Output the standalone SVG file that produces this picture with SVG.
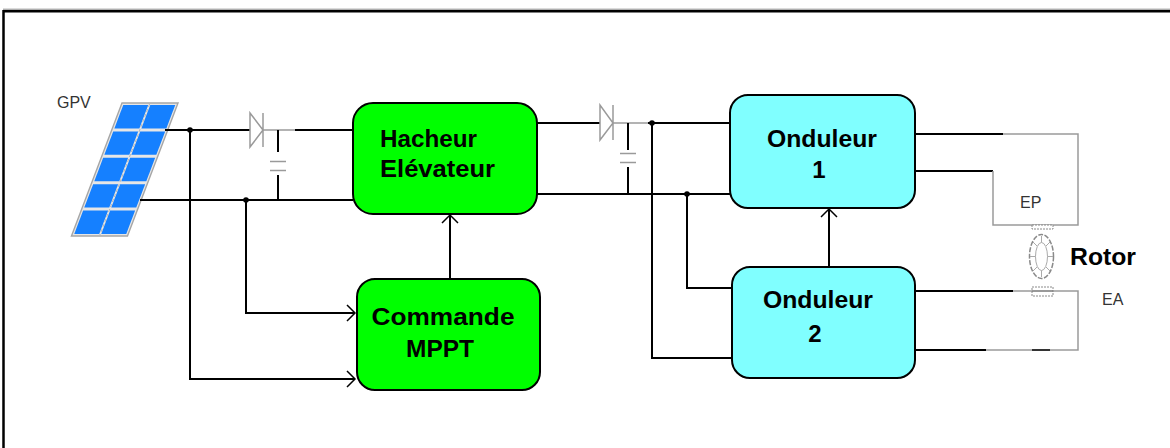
<svg xmlns="http://www.w3.org/2000/svg" width="1170" height="448" viewBox="0 0 1170 448">
  <defs>
    <style>
      .wire { fill: none; stroke: #000; stroke-width: 2; }
      .thin { fill: none; stroke: #9a9a9a; stroke-width: 1.5; }
      .box-g { fill: #00ff00; stroke: #000; stroke-width: 2; }
      .box-c { fill: #80ffff; stroke: #000; stroke-width: 2; }
      .lbl { font-family: "Liberation Sans", Arial, sans-serif; font-weight: bold; font-size: 24px; fill: #000; }
      .small { font-family: "Liberation Sans", Arial, sans-serif; font-size: 16px; fill: #333; }
      .cell { fill: #1580ff; }
    </style>
    <marker id="arr" viewBox="-10 -10 12 20" markerWidth="12" markerHeight="20" refX="0" refY="0" orient="auto" markerUnits="userSpaceOnUse">
      <path d="M-8,-8 L0,0 L-8,8" fill="none" stroke="#000" stroke-width="1.5"/>
    </marker>
  </defs>

  <rect width="1170" height="448" fill="#fff"/>

  <!-- outer frame -->
  <g id="frame">
    <line x1="3" y1="9.2" x2="1170" y2="9.2" stroke="#8a8a8a" stroke-width="1"/>
    <path d="M3.5,448 V11.2 H1170" fill="none" stroke="#000" stroke-width="2.5"/>
  </g>

  <!-- photovoltaic panel -->
  <g id="gpv">
    <g transform="translate(122,103) skewX(-20.8)">
      <rect x="0" y="0" width="56" height="133" fill="#e6e6e6" stroke="#a6a6a6" stroke-width="1.5"/>
      <rect class="cell" x="2" y="2" width="25" height="23.4"/>
      <rect class="cell" x="29" y="2" width="25" height="23.4"/>
      <rect class="cell" x="2" y="28.4" width="25" height="23.4"/>
      <rect class="cell" x="29" y="28.4" width="25" height="23.4"/>
      <rect class="cell" x="2" y="54.8" width="25" height="23.4"/>
      <rect class="cell" x="29" y="54.8" width="25" height="23.4"/>
      <rect class="cell" x="2" y="81.2" width="25" height="23.4"/>
      <rect class="cell" x="29" y="81.2" width="25" height="23.4"/>
      <rect class="cell" x="2" y="107.6" width="25" height="23.4"/>
      <rect class="cell" x="29" y="107.6" width="25" height="23.4"/>
      <line x1="28" y1="1" x2="28" y2="132" stroke="#b8b8b8" stroke-width="1" stroke-dasharray="3 2"/>
    </g>
    <text class="small" x="57" y="108">GPV</text>
  </g>

  <!-- connectors -->
  <g id="connectors">
    <!-- panel to boost converter -->
    <path class="wire" d="M165,130 H250"/>
    <path class="thin" d="M250,113 V147 L263,130 Z M263,113 V147 M263,130 H295"/>
    <path class="wire" d="M295,130 H353"/>
    <path class="wire" d="M140,200 H353"/>
    <path class="wire" d="M278,130 V152 M278,175 V200"/>
    <path class="thin" d="M270,161.5 H286 M270,170.5 H286"/>
    <!-- measurements to MPPT -->
    <path class="wire" d="M246,200 V313 H355" marker-end="url(#arr)"/>
    <path class="wire" d="M190,130 V379 H355" marker-end="url(#arr)"/>
    <path class="wire" d="M450,279 V215" marker-end="url(#arr)"/>
    <!-- DC bus to inverters -->
    <path class="wire" d="M537,123 H600"/>
    <path class="thin" d="M600,105 V140 L613,123 Z M613,105 V140 M613,123 H648"/>
    <path class="wire" d="M648,123 H730"/>
    <path class="wire" d="M537,194 H730"/>
    <path class="wire" d="M628,123 V150 M628,167 V194"/>
    <path class="thin" d="M620,153.5 H636 M620,162.5 H636"/>
    <path class="wire" d="M652,123 V358 H732"/>
    <path class="wire" d="M687,194 V288 H732"/>
    <path class="wire" d="M829,267 V209" marker-end="url(#arr)"/>
    <!-- inverter 1 to stator winding EP -->
    <path class="wire" d="M914,134 H1003 M914,171 H993"/>
    <path class="thin" d="M1003,134 H1078 V225 H993 V171"/>
    <!-- inverter 2 to stator winding EA -->
    <path class="wire" d="M914,291 H1013 M914,350 H986"/>
    <path class="thin" d="M1013,291 H1078 V350 H986"/>
    <path d="M1032,350 H1050" stroke="#333" stroke-width="2"/>
    <!-- junction dots -->
    <circle cx="190" cy="130" r="2.8" fill="#000"/>
    <circle cx="246" cy="200" r="2.8" fill="#000"/>
    <circle cx="652" cy="123" r="2.8" fill="#000"/>
    <circle cx="687" cy="194" r="2.8" fill="#000"/>
  </g>

  <g id="hacheur">
    <rect class="box-g" x="353" y="103" width="184" height="111" rx="20"/>
    <text class="lbl" x="380" y="147" textLength="97" lengthAdjust="spacingAndGlyphs">Hacheur</text>
    <text class="lbl" x="380" y="177" textLength="115" lengthAdjust="spacingAndGlyphs">Elévateur</text>
  </g>

  <g id="mppt">
    <rect class="box-g" x="357" y="279" width="183" height="111" rx="18"/>
    <text class="lbl" x="443" y="325" text-anchor="middle" textLength="143" lengthAdjust="spacingAndGlyphs">Commande</text>
    <text class="lbl" x="440" y="357" text-anchor="middle" textLength="68" lengthAdjust="spacingAndGlyphs">MPPT</text>
  </g>

  <g id="onduleur1">
    <rect class="box-c" x="730" y="95" width="185" height="113" rx="18"/>
    <text class="lbl" x="822" y="147" text-anchor="middle" textLength="110" lengthAdjust="spacingAndGlyphs">Onduleur</text>
    <text class="lbl" x="819" y="178" text-anchor="middle">1</text>
  </g>

  <g id="onduleur2">
    <rect class="box-c" x="732" y="267" width="183" height="111" rx="18"/>
    <text class="lbl" x="818" y="308" text-anchor="middle" textLength="110" lengthAdjust="spacingAndGlyphs">Onduleur</text>
    <text class="lbl" x="815" y="342" text-anchor="middle">2</text>
  </g>

  <!-- machine: stator windings and rotor -->
  <g id="machine">
    <rect x="1032" y="225" width="21" height="4" fill="#fff" stroke="#8a8a8a" stroke-width="1" stroke-dasharray="2 1"/>
    <rect x="1032" y="287" width="21" height="9" fill="#fff" stroke="#8a8a8a" stroke-width="1" stroke-dasharray="2 1"/>
    <line x1="1032" y1="291" x2="1053" y2="291" stroke="#777" stroke-width="1.5"/>
    <ellipse cx="1041.5" cy="256.5" rx="12" ry="22" fill="#fff" stroke="#8a8a8a" stroke-width="1.5" stroke-dasharray="5 1.5"/>
    <ellipse cx="1041.5" cy="256.5" rx="6" ry="14" fill="#fff" stroke="#aaa" stroke-width="1"/>
    <g stroke="#aaa" stroke-width="1">
      <line x1="1041.5" y1="236" x2="1041.5" y2="242.5"/>
      <line x1="1041.5" y1="270.5" x2="1041.5" y2="277"/>
      <line x1="1030" y1="256.5" x2="1035.5" y2="256.5"/>
      <line x1="1047.5" y1="256.5" x2="1053" y2="256.5"/>
      <line x1="1033" y1="242" x2="1037" y2="246"/>
      <line x1="1050" y1="242" x2="1046" y2="246"/>
      <line x1="1033" y1="271" x2="1037" y2="267"/>
      <line x1="1050" y1="271" x2="1046" y2="267"/>
    </g>
    <text class="small" x="1020" y="208" font-size="17">EP</text>
    <text class="small" x="1102" y="305" font-size="17">EA</text>
    <text class="lbl" x="1070" y="265" font-size="22" textLength="66" lengthAdjust="spacingAndGlyphs">Rotor</text>
  </g>
</svg>
